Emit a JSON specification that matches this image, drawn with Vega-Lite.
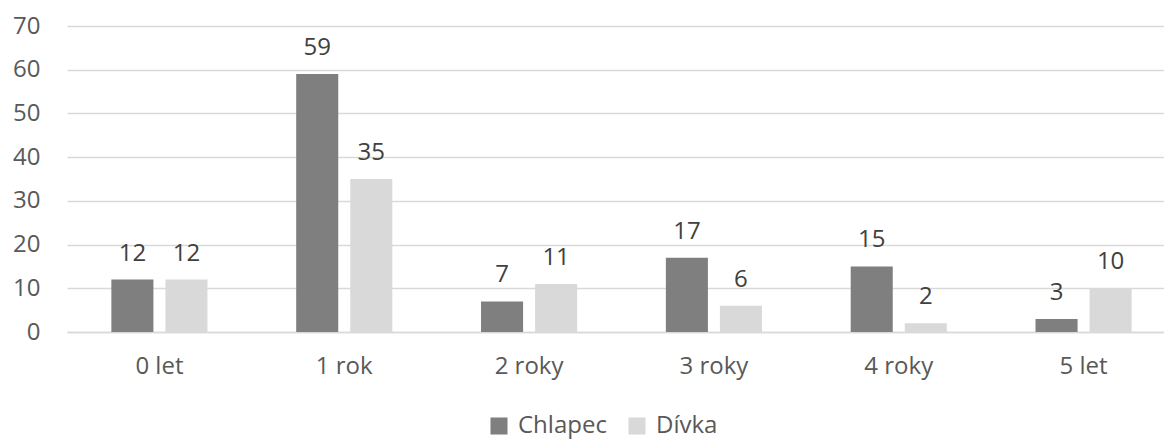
{
  "$schema": "https://vega.github.io/schema/vega-lite/v6.json",
  "width": 1097,
  "height": 306,
  "autosize": {"type": "none"},
  "padding": {"left": 67, "top": 26, "right": 0, "bottom": 110},
  "background": "white",
  "config": {
    "view": {"stroke": null},
    "font": "Open Sans"
  },
  "data": {
    "values": [
      {"vek": "0 let", "pohlavi": "Chlapec", "pocet": 12},
      {"vek": "0 let", "pohlavi": "Dívka", "pocet": 12},
      {"vek": "1 rok", "pohlavi": "Chlapec", "pocet": 59},
      {"vek": "1 rok", "pohlavi": "Dívka", "pocet": 35},
      {"vek": "2 roky", "pohlavi": "Chlapec", "pocet": 7},
      {"vek": "2 roky", "pohlavi": "Dívka", "pocet": 11},
      {"vek": "3 roky", "pohlavi": "Chlapec", "pocet": 17},
      {"vek": "3 roky", "pohlavi": "Dívka", "pocet": 6},
      {"vek": "4 roky", "pohlavi": "Chlapec", "pocet": 15},
      {"vek": "4 roky", "pohlavi": "Dívka", "pocet": 2},
      {"vek": "5 let", "pohlavi": "Chlapec", "pocet": 3},
      {"vek": "5 let", "pohlavi": "Dívka", "pocet": 10}
    ]
  },
  "encoding": {
    "x": {
      "field": "vek", "type": "nominal", "sort": null, "title": null,
      "scale": {"range": [0, 1109], "paddingInner": 0.48, "paddingOuter": 0.24},
      "axis": {"labelAngle": 0, "labelFontSize": 24, "labelColor": "#595959", "labelPadding": 22, "ticks": false, "domainColor": "#d9d9d9", "domainWidth": 1.5}
    },
    "xOffset": {"field": "pohlavi", "type": "nominal", "sort": ["Chlapec", "Dívka"], "scale": {"paddingInner": 0.222}},
    "y": {
      "field": "pocet", "type": "quantitative", "title": null,
      "scale": {"domain": [0, 70], "nice": false},
      "axis": {"values": [0, 10, 20, 30, 40, 50, 60, 70], "labelOverlap": false, "labelFontSize": 24, "labelColor": "#595959", "ticks": false, "domain": false, "labelPadding": 27, "gridColor": "#d9d9d9", "gridWidth": 1.5}
    }
  },
  "layer": [
    {
      "mark": {"type": "bar"},
      "encoding": {
        "color": {
          "field": "pohlavi", "type": "nominal", "sort": ["Chlapec", "Dívka"], "title": null,
          "scale": {"domain": ["Chlapec", "Dívka"], "range": ["#7f7f7f", "#d9d9d9"]},
          "legend": {"orient": "none", "legendX": 420, "legendY": 388, "direction": "horizontal", "symbolType": "square", "symbolSize": 290, "symbolStrokeWidth": 0, "labelFontSize": 24, "labelColor": "#595959", "columnPadding": 18, "labelOffset": 7}
        }
      }
    },
    {
      "mark": {"type": "text", "baseline": "alphabetic", "dy": -19, "fontSize": 24, "color": "#404040"},
      "encoding": {"text": {"field": "pocet", "type": "quantitative"}}
    }
  ]
}
